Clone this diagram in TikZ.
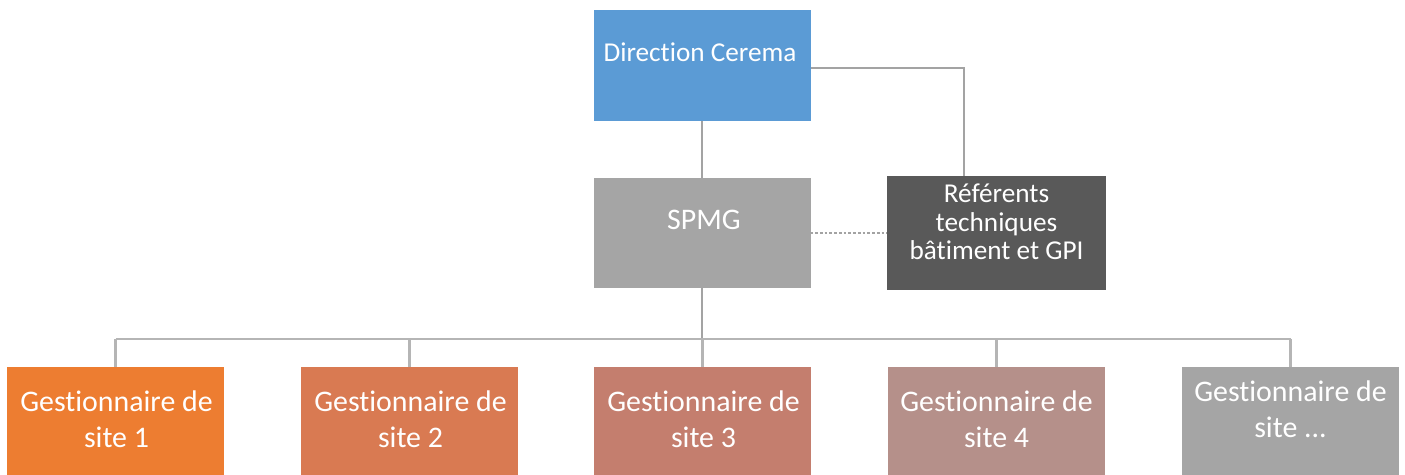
\documentclass[tikz,border=0pt]{standalone}
\usepackage{fontspec}
\setmainfont{Carlito}[Ligatures={NoCommon}]
\begin{document}
\begin{tikzpicture}[x=0.02cm,y=-0.02cm,
  box/.style={draw=none,minimum width=217*0.02cm,inner sep=0pt,outer sep=0pt},
  lbl/.style={text=white,font=\fontsize{17}{20.5}\selectfont,align=center,inner sep=0pt},
  lblsm/.style={lbl,font=\fontsize{15.5}{16.3}\selectfont},
  conn/.style={draw=lineg,line width=1.6pt},
  bus/.style={draw=lineg!80,line width=1.4pt}]
\definecolor{cblue}{HTML}{5B9BD5}
\definecolor{cgray}{HTML}{A5A5A5}
\definecolor{cdark}{HTML}{595959}
\definecolor{c1}{HTML}{ED7D31}
\definecolor{c2}{HTML}{D97A52}
\definecolor{c3}{HTML}{C47E6E}
\definecolor{c4}{HTML}{B5908A}
\definecolor{lineg}{HTML}{A3A3A3}
\useasboundingbox (0,0) rectangle (1405,475);
% boxes
\node[box,fill=cblue,minimum height=111*0.02cm] (dir) at (702,65.5) {};
\node[box,fill=cgray,minimum height=110*0.02cm] (spmg) at (702,233) {};
\node[box,fill=cdark,minimum width=219*0.02cm,minimum height=114*0.02cm] (ref) at (996.5,233) {};
\node[box,fill=c1,minimum height=120*0.02cm,anchor=north] (g1) at (115.5,367) {};
\node[box,fill=c2,minimum height=120*0.02cm,anchor=north] (g2) at (409.5,367) {};
\node[box,fill=c3,minimum height=120*0.02cm,anchor=north] (g3) at (702.5,367) {};
\node[box,fill=c4,minimum height=120*0.02cm,anchor=north] (g4) at (996.5,367) {};
\node[box,fill=cgray,minimum height=120*0.02cm,anchor=north] (g5) at (1290.5,367) {};
% labels
\node[lblsm] (tdir) at (700,52) {Direction Cerema};
\node[lbl] (tspmg) at (704,220) {SPMG};
\node[lblsm] (tref) at (996.5,222) {Référents\\techniques\\bâtiment et GPI};
\node[lbl] (t1) at (116.5,419) {Gestionnaire de\\site 1};
\node[lbl] (t2) at (410.5,419) {Gestionnaire de\\site 2};
\node[lbl] (t3) at (703.5,419) {Gestionnaire de\\site 3};
\node[lbl] (t4) at (996.5,419) {Gestionnaire de\\site 4};
\node[lbl] (t5) at (1290.5,409) {Gestionnaire de\\site ...};
% connectors
\coordinate (busy) at (0,339);
\coordinate (refx) at (964,0);
\draw[conn] (dir.south) -- (spmg.north);
\draw[conn] ([yshift=-2.5*0.02cm]dir.east) -| (refx |- ref.north);
\draw[draw=lineg,line width=1pt,dash pattern=on 1.5pt off 1.2pt] (spmg.east) -- (ref.west);
\draw[conn] (spmg.south) -- (spmg.south |- busy);
\draw[bus] (g1.north |- busy) -- (g5.north |- busy);
\foreach \g in {g1,g2,g3,g4,g5}{
  \draw[bus] (\g.north |- busy) -- (\g.north);
}
\end{tikzpicture}
\end{document}
